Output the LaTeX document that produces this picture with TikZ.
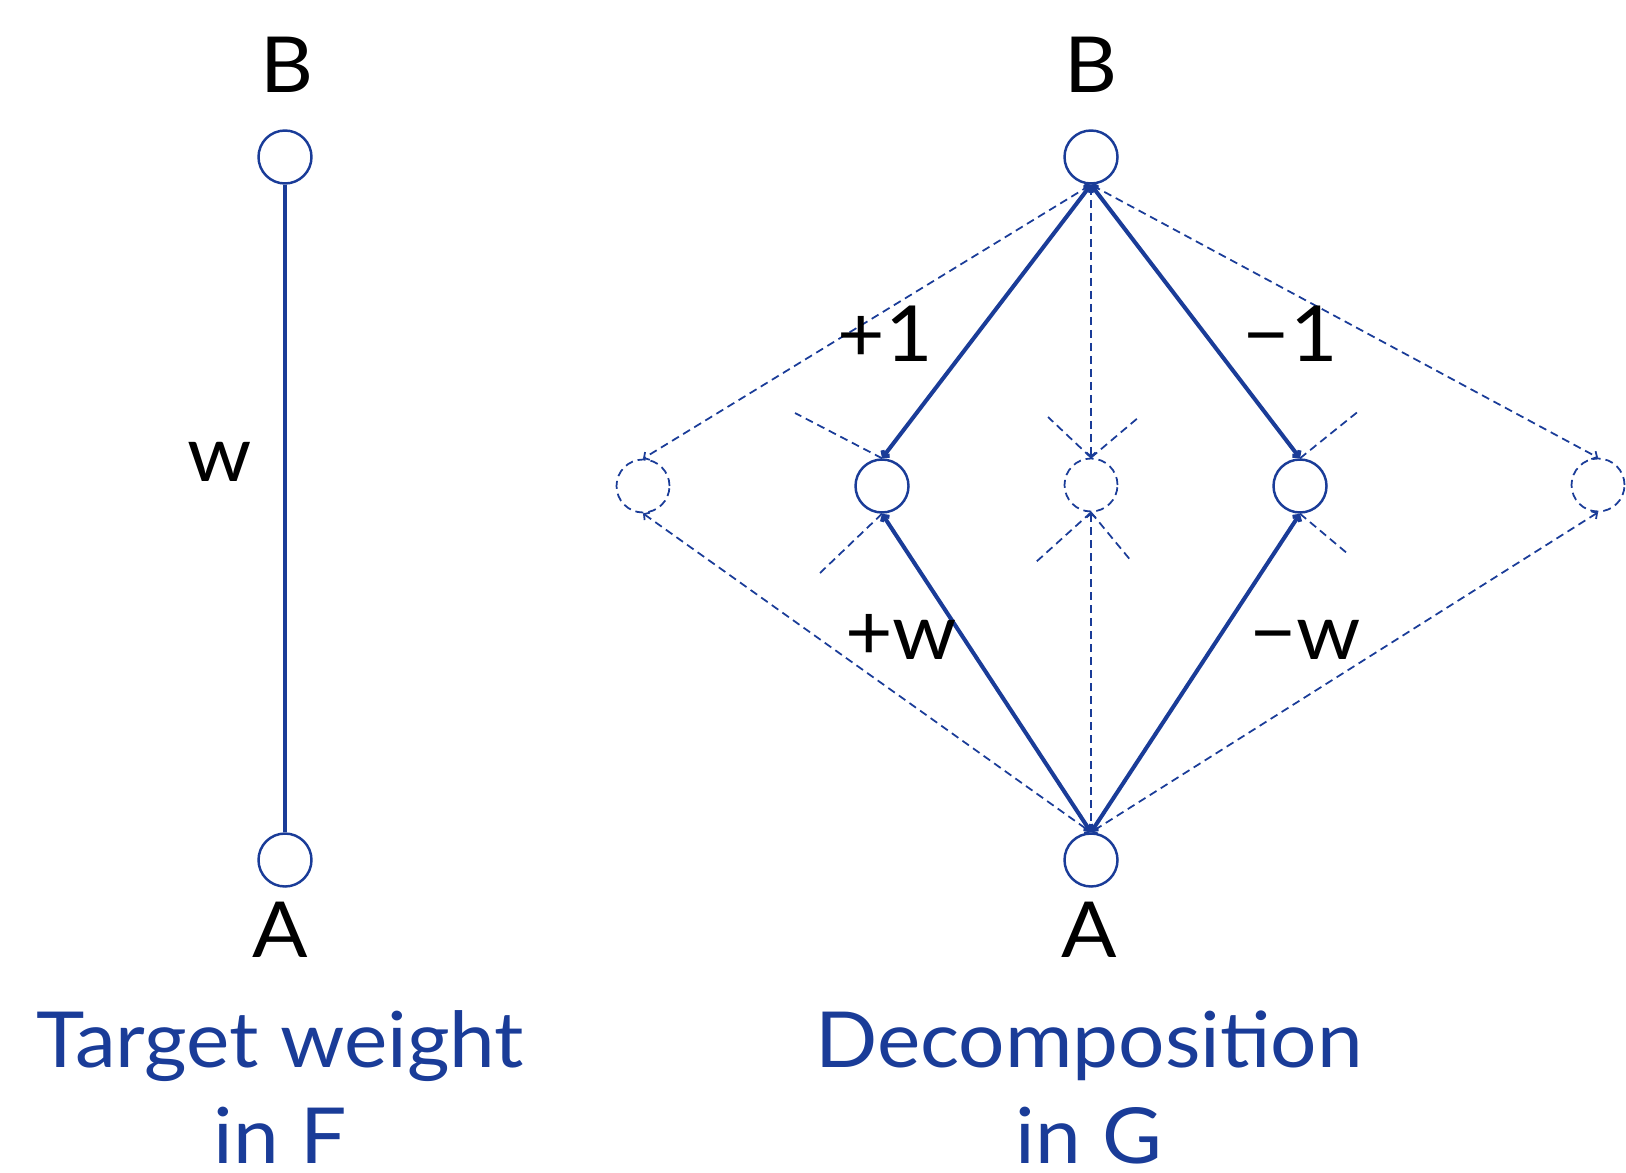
\documentclass[tikz,border=0pt]{standalone}
\usepackage{fontspec}
\setmainfont{Lato}[FakeStretch=1.06]
\usetikzlibrary{arrows.meta,positioning}
\definecolor{edgeblue}{HTML}{1A3C98}

\begin{document}
\begin{tikzpicture}[
    x=0.2mm, y=-0.2mm,
    font=\fontsize{44}{54.6}\selectfont,
    vertex/.style={circle, draw=edgeblue, line width=1.4pt, minimum size=10.6mm, inner sep=0pt, fill=white},
    ghost/.style={vertex, dash pattern=on 1.6mm off 1mm, line width=1pt},
    strong/.style={draw=edgeblue, line width=2.3pt},
    weak/.style={draw=edgeblue, line width=1pt, dash pattern=on 1.6mm off 1mm},
    tips/.style={{Straight Barb[length=0.8mm,width=1.8mm]}-{Straight Barb[length=0.8mm,width=1.8mm]}},
    namelbl/.style={anchor=base},
    caption/.style={text=edgeblue, align=center, anchor=base, inner sep=0pt},
]
    \useasboundingbox (0,0) rectangle (1626,1172);

    % --- Graph F ---
    \node[vertex] (bF) at (285,157) {};
    \node[vertex] (aF) at (285,860) {};
    \node[namelbl] (tbF) at (287,92) {B};
    \node[namelbl] (taF) at (280,957) {A};
    \draw[strong] (bF.south) -- (aF.north);
    \node[namelbl] (wF) at (220,481) {w};
    \node[caption] (capF) at (280,1163) {Target weight\\in F};

    % --- Graph G: nodes ---
    \node[vertex] (bG) at (1091,157) {};
    \node[vertex] (aG) at (1091,860) {};
    \node[namelbl] (tbG) at (1091,92) {B};
    \node[namelbl] (taG) at (1089,957) {A};
    \node[ghost]  (ll)  at (643,486) {};
    \node[vertex] (pl)  at (882,486) {};
    \node[ghost]  (mid) at (1091,485) {};
    \node[vertex] (pr)  at (1300,486) {};
    \node[ghost]  (rr)  at (1598,485) {};

    % --- Graph G: solid paths ---
    \draw[strong, tips] (bG.south) -- (pl.north);
    \draw[strong, tips] (bG.south) -- (pr.north);
    \draw[strong, tips] (pl.south) -- (aG.north);
    \draw[strong, tips] (pr.south) -- (aG.north);

    % --- Graph G: dashed paths ---
    \draw[weak, tips] (bG.south) -- (ll.north);
    \draw[weak, tips] (bG.south) -- (mid.north);
    \draw[weak, tips] (bG.south) -- (rr.north);
    \draw[weak, tips] (ll.south) -- (aG.north);
    \draw[weak, tips] (mid.south) -- (aG.north);
    \draw[weak, tips] (rr.south) -- (aG.north);

    % --- Stubs round the middle row ---
    \coordinate (sL1) at (795,413);
    \coordinate (sL2) at (820,573);
    \coordinate (sC1) at (1048,417);
    \coordinate (sC2) at (1139,417);
    \coordinate (sC3) at (1036,562);
    \coordinate (sC4) at (1132,562);
    \coordinate (sR1) at (1360,410);
    \coordinate (sR2) at (1348,554);
    \draw[weak] (pl.north) -- (sL1);
    \draw[weak] (pl.south) -- (sL2);
    \draw[weak] (mid.north) -- (sC1);
    \draw[weak] (mid.north) -- (sC2);
    \draw[weak] (mid.south) -- (sC3);
    \draw[weak] (mid.south) -- (sC4);
    \draw[weak] (pr.north) -- (sR1);
    \draw[weak] (pr.south) -- (sR2);

    % --- Weights ---
    \node[namelbl] (wp1) at (885,361) {+1};
    \node[namelbl] (wm1) at (1290,361) {−1};
    \node[namelbl] (wpw) at (901,659) {+w};
    \node[namelbl] (wmw) at (1305,659) {−w};
    \node[caption] (capG) at (1089,1163) {Decomposition\\in G};

\end{tikzpicture}
\end{document}
